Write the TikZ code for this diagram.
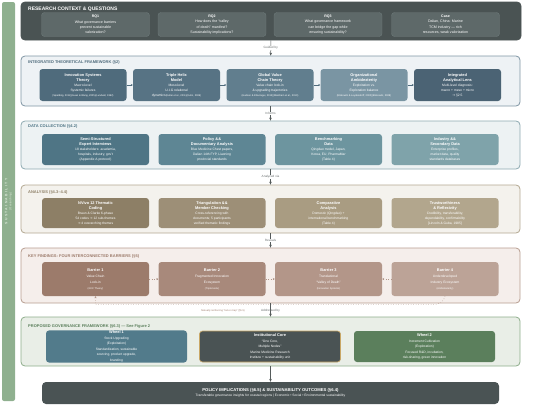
\documentclass[tikz,border=0pt]{standalone}
\usepackage{fontspec}
\setmainfont{Liberation Sans}
\newfontfamily\symfont{DejaVu Sans}
\usetikzlibrary{arrows.meta,calc}

\definecolor{sidegreen}{HTML}{8FB08F}
\definecolor{sidetext}{HTML}{DDEADB}
\definecolor{ctxfill}{HTML}{4A5353}
\definecolor{rqfill}{HTML}{5E6969}
\definecolor{rqline}{HTML}{6E7A7A}
\definecolor{thfill}{HTML}{EEF2F5}
\definecolor{thline}{HTML}{7F95A3}
\definecolor{thA}{HTML}{4F6B7C}
\definecolor{thB}{HTML}{577384}
\definecolor{thC}{HTML}{617E8E}
\definecolor{thD}{HTML}{7A95A3}
\definecolor{thE}{HTML}{4B6374}
\definecolor{dcfill}{HTML}{EDF2F3}
\definecolor{dcline}{HTML}{8EA9B1}
\definecolor{dcA}{HTML}{4F7585}
\definecolor{dcB}{HTML}{5E8694}
\definecolor{dcC}{HTML}{6D959F}
\definecolor{dcD}{HTML}{7FA3AA}
\definecolor{anfill}{HTML}{F4F2ED}
\definecolor{anline}{HTML}{B3A791}
\definecolor{anA}{HTML}{8D7F66}
\definecolor{anB}{HTML}{9D8F77}
\definecolor{anC}{HTML}{A99C82}
\definecolor{anD}{HTML}{B2A68D}
\definecolor{kffill}{HTML}{F5EEEB}
\definecolor{kfline}{HTML}{B79D90}
\definecolor{kfA}{HTML}{9C7B6B}
\definecolor{kfB}{HTML}{A8897B}
\definecolor{kfC}{HTML}{B39689}
\definecolor{kfD}{HTML}{BCA397}
\definecolor{govfill}{HTML}{E9EEE7}
\definecolor{govline}{HTML}{8EAD8B}
\definecolor{wheelone}{HTML}{527B8B}
\definecolor{corefill}{HTML}{4A5354}
\definecolor{coreline}{HTML}{C9A765}
\definecolor{wheeltwo}{HTML}{5B7F5C}
\definecolor{arrowgray}{HTML}{555B5B}
\definecolor{labelgray}{HTML}{6A6F6F}

\newcommand{\hd}[1]{{\fontsize{3.9}{5}\selectfont\bfseries #1}}
\newcommand{\srcs}[1]{{\fontsize{2.5}{5}\selectfont #1}}
\newcommand{\ra}{{\symfont →}}

\tikzset{
  sect/.style={draw, rounded corners=4pt, line width=0.8pt, inner sep=0pt},
  sectitle/.style={anchor=west, inner sep=0pt, font=\fontsize{4}{5}\selectfont\bfseries},
  inbox/.style={rounded corners=3pt, text=white, align=center, inner sep=0.5pt,
    font=\fontsize{3.3}{5}\selectfont},
  rqbox/.style={inbox, draw=rqline, line width=0.4pt, fill=rqfill, minimum width=108pt,
    minimum height=24pt, font=\fontsize{3.6}{5.3}\selectfont},
  thbox/.style={inbox, minimum width=87pt, minimum height=32pt},
  dcbox/.style={inbox, minimum width=107pt, minimum height=31pt},
  anbox/.style={inbox, minimum width=107pt, minimum height=30pt},
  kfbox/.style={inbox, minimum width=107pt, minimum height=34pt, font=\fontsize{3.3}{6}\selectfont},
  govbox/.style={inbox, minimum width=141pt, minimum height=31pt, font=\fontsize{3.3}{5.5}\selectfont},
  flow/.style={-{Stealth[length=3pt,width=2.6pt]}, draw=arrowgray, line width=0.5pt},
  flowlbl/.style={font=\fontsize{3.1}{3.6}\selectfont, text=labelgray, fill=white, inner sep=0.6pt},
  step arrow/.style={-{Stealth[length=2pt,width=2pt]}, draw=thA, line width=0.45pt},
  lockin/.style={draw=kfA!80, dotted, line width=0.5pt},
}

\begin{document}
\begin{tikzpicture}[x=1pt,y=-1pt]
  \useasboundingbox (0,0) rectangle (550,407);

  %%%%% SIDEBAR %%%%%
  \node[fill=sidegreen, rounded corners=2pt, minimum width=13pt, minimum height=399pt, inner sep=0pt] (side) at (8.5,201.5) {};
  \node[rotate=90, align=center, text=sidetext, font=\fontsize{3.4}{4.2}\selectfont] (sidelbl) at (side.center)
    {{\bfseries\addfontfeatures{LetterSpace=40}SUSTAINABILITY}\\{\fontsize{2.8}{3.4}\selectfont(Overarching)}};

  %%%%% RESEARCH CONTEXT %%%%%
  \node[sect, draw=ctxfill, fill=ctxfill, minimum width=500pt, minimum height=38pt] (ctx) at (271,21) {};
  \node[sectitle, text=white, font=\fontsize{5}{6}\selectfont\bfseries] (ctxtitle) at (28,9.5) {RESEARCH CONTEXT \& QUESTIONS};
  \node[rqbox] (rq1) at (95.5,24.5) {\textbf{RQ1}\\What governance barriers\\prevent sustainable\\valorization?};
  \node[rqbox] (rq2) at (212,24.5) {\textbf{RQ2}\\How does the “valley\\of death” manifest?\\Sustainability implications?};
  \node[rqbox] (rq3) at (328,24.5) {\textbf{RQ3}\\What governance framework\\can bridge the gap while\\ensuring sustainability?};
  \node[rqbox] (case) at (445.5,24.5) {\textbf{Case}\\Dalian, China: Marine\\TCM industry — rich\\resources, weak valorization};

  %%%%% THEORY %%%%%
  \node[sect, draw=thline, fill=thfill, minimum width=499pt, minimum height=50pt] (theory) at (270.5,81) {};
  \node[sectitle, text=thA] (theorytitle) at (28,62.5) {INTEGRATED THEORETICAL FRAMEWORK (§2)};
  \node[thbox, fill=thA] (ist) at (83,85) {\hd{Innovation Systems}\\\hd{Theory}\\Macro-level\\Systemic failures\\\srcs{(Spielding, 2014)(Guan \& Wang, 2005)(Lundvall, 1992)}};
  \node[thbox, fill=thB] (thm) at (176.5,85) {\hd{Triple Helix}\\\hd{Model}\\Meso-level\\U-I-G relational\\dynamics\srcs{(Keller et al., 2011)(Kuhn, 2006)}};
  \node[thbox, fill=thC] (gvc) at (270,85) {\hd{Global Value}\\\hd{Chain Theory}\\Value chain lock-in\\\& upgrading trajectories\\\srcs{(Hudson \& Khazragui, 2013)(Markham et al., 2010)}};
  \node[thbox, fill=thD] (amb) at (364,85) {\hd{Organizational}\\\hd{Ambidexterity}\\Exploitation vs.\\Exploration balance\\\srcs{(Etzkowitz \& Leydesdorff, 2000)(Etzkowitz, 2008)}};
  \node[thbox, fill=thE] (lens) at (457.5,85) {\hd{Integrated}\\\hd{Analytical Lens}\\Multi-level diagnosis:\\macro + meso + micro\\\ra\ §2.5};
  \draw[step arrow] (ist) -- (thm);
  \draw[step arrow] (thm) -- (gvc);
  \draw[step arrow] (gvc) -- (amb);
  \draw[step arrow] (amb) -- (lens);

  %%%%% DATA COLLECTION %%%%%
  \node[sect, draw=dcline, fill=dcfill, minimum width=499pt, minimum height=48pt] (data) at (270.5,145) {};
  \node[sectitle, text=dcA] (datatitle) at (28,126.5) {DATA COLLECTION (§4.2)};
  \node[dcbox, fill=dcA] (intv) at (95.5,149.5) {\hd{Semi-Structured}\\\hd{Expert Interviews}\\18 stakeholders: academia,\\hospitals, industry, gov't\\(Appendix A protocol)};
  \node[dcbox, fill=dcB] (docs) at (212,149.5) {\hd{Policy \&\&}\\\hd{Documentary Analysis}\\Blue Medicine Chest papers,\\Dalian 14th FYP, Liaoning\\provincial standards};
  \node[dcbox, fill=dcC] (bench) at (328.5,149.5) {\hd{Benchmarking}\\\hd{Data}\\Qingdao model, Japan,\\Korea, EU, PharmaMar\\(Table 4)};
  \node[dcbox, fill=dcD] (indus) at (445,149.5) {\hd{Industry \&\&}\\\hd{Secondary Data}\\Enterprise profiles,\\market data, quality\\standards databases};

  %%%%% ANALYSIS %%%%%
  \node[sect, draw=anline, fill=anfill, minimum width=499pt, minimum height=48pt] (analysis) at (270.5,209) {};
  \node[sectitle, text=anA] (analysistitle) at (28,192) {ANALYSIS (§4.3–4.4)};
  \node[anbox, fill=anA] (nvivo) at (95.5,213) {\hd{NVivo 12 Thematic}\\\hd{Coding}\\Braun \& Clarke 6-phase\\54 codes \ra\ 12 sub-themes\\\ra\ 4 overarching themes};
  \node[anbox, fill=anB] (tri) at (212,213) {\hd{Triangulation \&\&}\\\hd{Member Checking}\\Cross-referencing with\\documents; 5 participants\\verified thematic findings};
  \node[anbox, fill=anC] (comp) at (328.5,213) {\hd{Comparative}\\\hd{Analysis}\\Domestic (Qingdao) +\\international benchmarking\\(Table 4)};
  \node[anbox, fill=anD] (trust) at (445,213) {\hd{Trustworthiness}\\\hd{\& Reflexivity}\\Credibility, transferability,\\dependability, confirmability\\{[}Lincoln \& Guba, 1985{]}};

  %%%%% KEY FINDINGS %%%%%
  \node[sect, draw=kfline, fill=kffill, minimum width=499pt, minimum height=55pt] (findings) at (270.5,275.5) {};
  \node[sectitle, text=kfA] (findingstitle) at (28,256) {KEY FINDINGS: FOUR INTERCONNECTED BARRIERS (§5)};
  \node[kfbox, fill=kfA] (bar1) at (95.5,279) {\hd{Barrier 1}\\Value Chain\\Lock-in\\\srcs{(GVC Theory)}};
  \node[kfbox, fill=kfB] (bar2) at (212,279) {\hd{Barrier 2}\\Fragmented Innovation\\Ecosystem\\\srcs{(Triple Helix)}};
  \node[kfbox, fill=kfC] (bar3) at (328.5,279) {\hd{Barrier 3}\\Translational\\“Valley of Death”\\\srcs{(Innovation Systems)}};
  \node[kfbox, fill=kfD] (bar4) at (445,279) {\hd{Barrier 4}\\Underdeveloped\\Industry Ecosystem\\\srcs{(Ambidexterity)}};
  \draw[lockin, -{Stealth[length=2pt,width=2pt]}] (bar1) -- (bar2);
  \draw[lockin, -{Stealth[length=2pt,width=2pt]}] (bar2) -- (bar3);
  \draw[lockin, {Stealth[length=2pt,width=2pt]}-] (bar3) -- (bar4);
  \draw[lockin, -{Stealth[length=2pt,width=2pt]}] (bar4.south) to[out=-100,in=0] ($(bar4.south)+(-12,8.5)$)
    -- ($(bar1.south)+(0,8.5)$) -- (bar1.south);
  \node[font=\fontsize{2.5}{3}\selectfont, text=kfA] (lockinlbl) at (223,311) {Mutually reinforcing “lock-in trap” (§5.5)};

  %%%%% GOVERNANCE %%%%%
  \node[sect, draw=govline, fill=govfill, minimum width=499pt, minimum height=49pt] (gov) at (270.5,341.5) {};
  \node[sectitle, text=wheeltwo] (govtitle) at (28,326) {PROPOSED GOVERNANCE FRAMEWORK (§6.3) — See Figure 2};
  \node[govbox, fill=wheelone] (wheel1) at (116.5,346.5) {\hd{Wheel 1}\\Stock Upgrading\\(Exploitation)\\Standardization, sustainable\\sourcing, product upgrade,\\branding};
  \node[govbox, fill=corefill, draw=coreline, line width=0.6pt] (core) at (270,346.5) {\hd{Institutional Core}\\“One Core,\\Multiple Nodes”\\Marine Medicine Research\\Institute + sustainability unit};
  \node[govbox, fill=wheeltwo] (wheel2) at (424.5,346.5) {\hd{Wheel 2}\\Increment Cultivation\\(Exploration)\\Focused R\&D, incubation,\\risk-sharing, green innovation};

  %%%%% POLICY %%%%%
  \node[inbox, fill=corefill, minimum width=457pt, minimum height=22pt, rounded corners=4pt] (policy) at (270.5,393)
    {{\fontsize{4.2}{6.5}\selectfont\bfseries POLICY IMPLICATIONS (§6.5) \& SUSTAINABILITY OUTCOMES (§6.4)}\\
     {\fontsize{3.3}{5}\selectfont Transferable governance insights for coastal regions | Economic • Social • Environmental sustainability}};

  %%%%% FLOW %%%%%
  \draw[flow] (ctx) -- (theory) node[midway, flowlbl] (guided) {Guided by};
  \draw[flow] (theory) -- (data) node[midway, flowlbl] (informs) {Informs};
  \draw[flow] (data) -- (analysis) node[midway, flowlbl] (analyzed) {Analyzed via};
  \draw[flow] (analysis) -- (findings) node[midway, flowlbl] (reveals) {Reveals};
  \draw[flow] (findings) -- (gov) node[pos=0.52, flowlbl, fill=none] (addressed) {Addressed by};
  \draw[flow] (gov) -- (policy);
\end{tikzpicture}
\end{document}
